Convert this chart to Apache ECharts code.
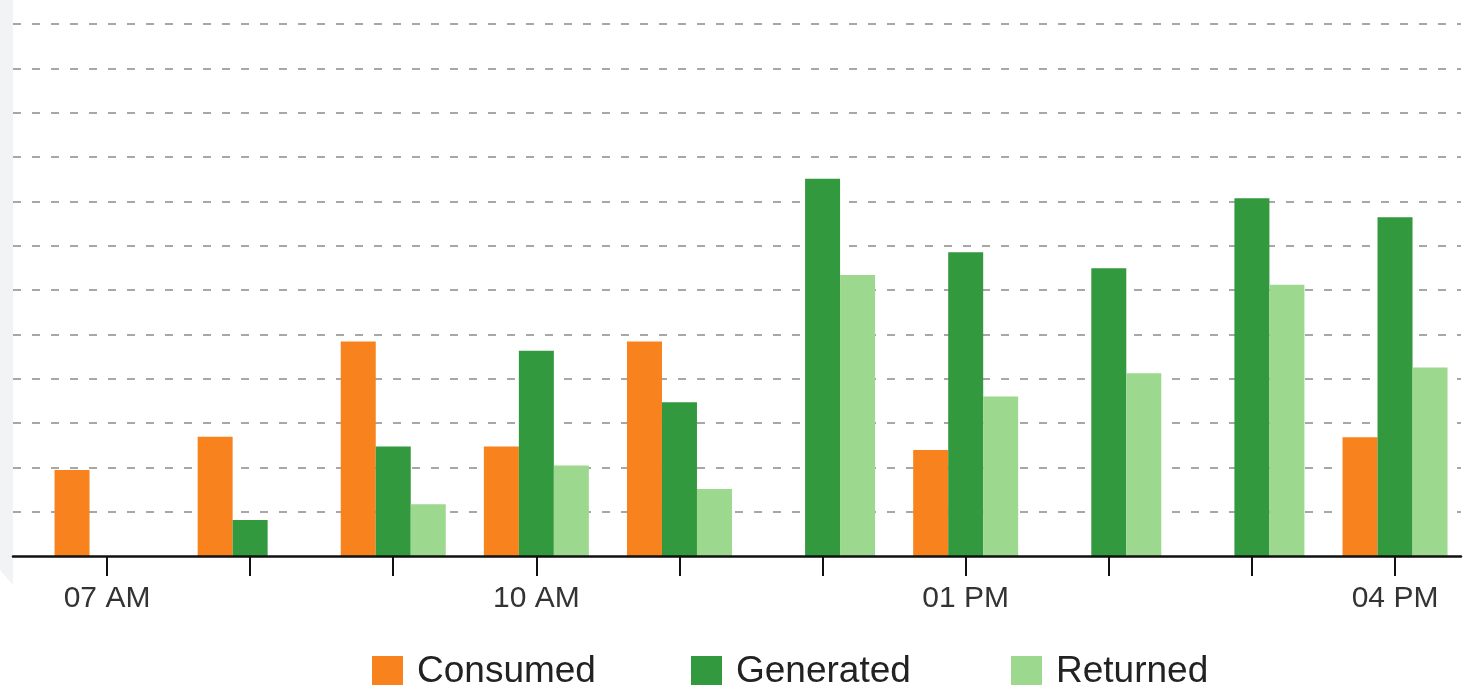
<!DOCTYPE html>
<html>
<head>
<meta charset="utf-8">
<script src="https://cdn.jsdelivr.net/npm/echarts@6/dist/echarts.min.js"></script>
<style>
  html, body { margin: 0; padding: 0; background: #ffffff; }
  #wrap { position: relative; width: 1476px; height: 685px; overflow: hidden; }
  #band { position: absolute; left: 0; top: 0; width: 13px; height: 685px; background: #f2f3f4;
          clip-path: polygon(0 0, 13px 0, 13px 585px, 0 570px); }
  #chart { position: absolute; left: 0; top: 0; width: 1476px; height: 685px; }
</style>
</head>
<body>
<div id="wrap">
  <div id="band"></div>
  <div id="chart"></div>
</div>
<script>
const categories = ['07 AM', '08 AM', '09 AM', '10 AM', '11 AM', '12 PM', '01 PM', '02 PM', '03 PM', '04 PM'];
const labelIndexes = [0, 3, 6, 9];
const consumed  = [1.94, 2.69, 4.84, 2.47, 4.84, null, 2.39, null, null, 2.68];
const generated = [null, 0.81, 2.47, 4.63, 3.47, 8.51, 6.85, 6.49, 8.07, 7.64];
const returned  = [null, null, 1.17, 2.04, 1.51, 6.34, 3.60, 4.12, 6.12, 4.25];
const seriesNames = ['Consumed', 'Generated', 'Returned'];
const seriesColors = ['#f8821e', '#32993f', '#9cd98e'];

function toPoints(arr) {
  const out = [];
  arr.forEach((v, i) => { if (v !== null) out.push([i, v]); });
  return out;
}

const chart = echarts.init(document.getElementById('chart'), null, { renderer: 'canvas' });
const allIdx = categories.map((c, i) => i);
const textFont = 'Liberation Sans, Arial, sans-serif';
const legendLefts = [367, 686, 1006];

const option = {
  backgroundColor: 'transparent',
  animation: false,
  grid: { left: 13, right: 15, top: 24, bottom: 129, containLabel: false },
  legend: seriesNames.map((n, i) => ({
    data: [n],
    left: legendLefts[i],
    top: 648,
    icon: 'rect',
    itemWidth: 31,
    itemHeight: 31,
    selectedMode: false,
    textStyle: { fontSize: 37, color: '#222', fontFamily: textFont, padding: [0, 0, 0, 9] }
  })),
  xAxis: {
    type: 'value',
    min: -0.657,
    max: 9.461,
    z: 5,
    splitLine: { show: false },
    axisLine: { show: true, onZero: false, lineStyle: { color: '#111', width: 2.5 } },
    axisTick: { show: true, customValues: allIdx, length: 20, lineStyle: { color: '#111', width: 2 } },
    axisLabel: {
      show: true,
      customValues: labelIndexes,
      formatter: v => categories[Math.round(v)],
      fontSize: 30,
      color: '#333',
      fontFamily: textFont,
      margin: 28
    }
  },
  yAxis: {
    type: 'value',
    min: 0,
    max: 12,
    interval: 1,
    axisLine: { show: false },
    axisTick: { show: false },
    axisLabel: { show: false },
    splitLine: { show: true, showMinLine: false, lineStyle: { color: '#8a8a8a', width: 1.6, type: [8, 11] } }
  },
  series: [consumed, generated, returned].map((arr, i) => ({
    name: seriesNames[i],
    type: 'bar',
    data: toPoints(arr),
    barWidth: 35,
    barGap: '0%',
    itemStyle: { color: seriesColors[i] }
  }))
};
chart.setOption(option);
</script>
</body>
</html>
